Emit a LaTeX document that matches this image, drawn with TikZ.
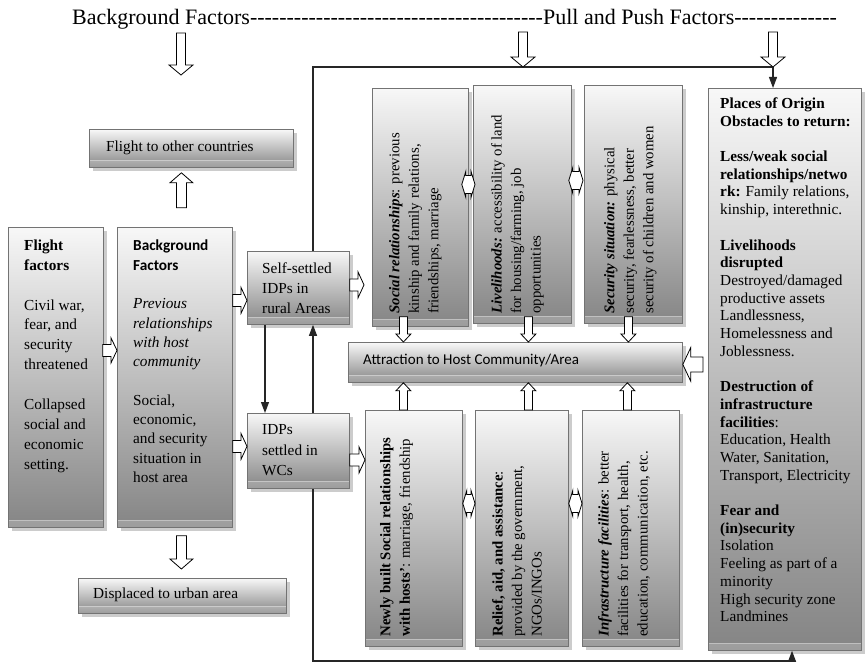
\documentclass[tikz,border=0pt]{standalone}
\usepackage{fontspec}
\setmainfont{Liberation Serif}
\newfontfamily\calibri{Carlito}
\usetikzlibrary{calc,shadows,arrows.meta}
\newcommand\bodyfont{\rmfamily\fontsize{15.3}{19.9}\selectfont}
\newcommand\rotfont{\rmfamily\fontsize{14.8}{19.5}\selectfont}
\newcommand\placefont{\rmfamily\fontsize{15.3}{17.7}\selectfont}
\newcommand\dashrun[1]{\foreach\i in {1,...,#1}{-{}}}
\tikzset{
  box/.style={draw=black!55, line width=0.8pt, top color=black!3, bottom color=black!48,
    drop shadow={shadow xshift=3.5pt, shadow yshift=-3.5pt, fill=black!20, opacity=1},
    path picture={\fill[white,opacity=0.2] (path picture bounding box.south west) rectangle ([yshift=7pt]path picture bounding box.south east);
      \draw[white,opacity=0.35,line width=0.6pt] ([yshift=7pt]path picture bounding box.south west) -- ([yshift=7pt]path picture bounding box.south east);}},
  txt/.style={inner sep=0pt, align=left, anchor=north west, font=\bodyfont},
  rtxt/.style={inner sep=0pt, align=left, anchor=north west, rotate=90, font=\rotfont},
  hollow/.style={draw=black, line width=0.8pt, fill=white, line join=miter},
  link/.style={draw=black!85, line width=1.1pt},
  tip/.style={-{Triangle[length=11pt,width=8pt]}},
}
\newcommand\bx[5]{\node[box, anchor=north west, inner sep=0pt, minimum width=#4pt, minimum height=#5pt] (#1) at (#2,#3) {};}
\newcommand\blockarrow[5]{%
  \path let \p1=(#1), \p2=(#2), \n1={atan2(\y2-\y1,\x2-\x1)}, \n2={veclen(\x2-\x1,\y2-\y1)} in
    \pgfextra{\xdef\BAang{\n1}\xdef\BAlen{\n2}\xdef\BAx{\x1}\xdef\BAy{\y1}};
  \begin{scope}[shift={(\BAx,\BAy)}, rotate=\BAang, x=1pt, y=1pt]
    \draw[hollow] (0,-#3) -- ({\BAlen-#5},-#3) -- ({\BAlen-#5},-#4) -- (\BAlen,0) -- ({\BAlen-#5},#4) -- ({\BAlen-#5},#3) -- (0,#3) -- cycle;
  \end{scope}}
\newcommand\dblarrow[5]{%
  \path let \p1=(#1), \p2=(#2), \n1={atan2(\y2-\y1,\x2-\x1)}, \n2={veclen(\x2-\x1,\y2-\y1)} in
    \pgfextra{\xdef\BAang{\n1}\xdef\BAlen{\n2}\xdef\BAx{\x1}\xdef\BAy{\y1}};
  \begin{scope}[shift={(\BAx,\BAy)}, rotate=\BAang, x=1pt, y=1pt]
    \draw[hollow] (0,0) -- (#5,#4) -- (#5,#3) -- ({\BAlen-#5},#3) -- ({\BAlen-#5},#4) -- (\BAlen,0) -- ({\BAlen-#5},-#4) -- ({\BAlen-#5},-#3) -- (#5,-#3) -- (#5,-#4) -- cycle;
  \end{scope}}
\begin{document}
\begin{tikzpicture}[x=1pt,y=-1pt]
\useasboundingbox[fill=white] (0,0) rectangle (866,666);
% title
\node[anchor=base west, inner sep=0pt, font=\rmfamily\fontsize{22}{26}\selectfont] (title) at (72,25)
  {Background Factors\dashrun{40}Pull and Push Factors\dashrun{14}};
% boxes
\bx{flight}{89}{129}{204}{38}
\bx{ff}{8}{227}{95}{300}
\bx{bg}{117}{227}{115}{300}
\bx{ss}{247}{251}{102}{73}
\bx{wc}{247}{413}{102}{75}
\bx{disp}{78}{578}{208}{35}
\bx{soc}{372}{88}{96}{238}
\bx{liv}{473}{85}{98}{238}
\bx{sec}{584}{85}{98}{238}
\bx{attr}{348}{342}{334}{40}
\bx{newly}{365}{410}{97}{236}
\bx{relief}{475}{410}{93}{236}
\bx{infra}{582}{410}{97}{236}
\bx{places}{708}{88}{153}{562}
% texts
\node[txt, anchor=west] at ($(flight.west)+(17,-1)$) {Flight to other countries};
\node[txt, anchor=west] at ($(disp.west)+(15,-1)$) {Displaced to urban area};
\node[txt, anchor=west, font=\calibri\fontsize{15}{18}\selectfont] at ($(attr.west)+(15,-2)$) {Attraction to Host Community/Area};
\node[txt] at ($(ff.north west)+(16,12.5)$) {\textbf{Flight}\\\textbf{factors}\\[19.9pt]Civil war,\\fear, and\\security\\threatened\\[19.9pt]Collapsed\\social and\\economic\\setting.};
\node[txt, font=\rmfamily\fontsize{15.3}{19.3}\selectfont] at ($(bg.north west)+(16,13)$) {{\calibri\bfseries Background}\\{\calibri\bfseries Factors}\\[19.3pt]\textit{Previous}\\\textit{relationships}\\\textit{with host}\\\textit{community}\\[19.3pt]Social,\\economic,\\and security\\situation in\\host area};
\node[txt, font=\rmfamily\fontsize{15.3}{20}\selectfont] at ($(ss.north west)+(15,11.5)$) {Self-settled\\IDPs in\\rural Areas};
\node[txt, font=\rmfamily\fontsize{15.3}{20.5}\selectfont] at ($(wc.north west)+(15,11.5)$) {IDPs\\settled in\\WCs};
\node[txt, font=\placefont] at ($(places.north west)+(12,9.5)$) {\textbf{Places of Origin}\\
\textbf{Obstacles to return:}\\[17.7pt]
\textbf{Less/weak social}\\
\textbf{relationships/netwo}\\
\textbf{rk:} Family relations,\\
kinship, interethnic.\\[17.7pt]
\textbf{Livelihoods}\\
\textbf{disrupted}\\
Destroyed/damaged\\
productive assets\\
Landlessness,\\
Homelessness and\\
Joblessness.\\[17.7pt]
\textbf{Destruction of}\\
\textbf{infrastructure}\\
\textbf{facilities}:\\
Education, Health\\
Water, Sanitation,\\
Transport, Electricity\\[17.7pt]
\textbf{Fear and}\\
\textbf{(in)security}\\
Isolation\\
Feeling as part of a\\
minority\\
High security zone\\
Landmines};
% rotated texts
\node[rtxt] at ($(soc.south west)+(17,-13)$) {\textbf{\textit{Social relationships}}: previous\\kinship and family relations,\\friendships, marriage};
\node[rtxt] at ($(liv.south west)+(18,-10)$) {\textbf{\textit{Livelihoods:}} accessibility of land\\for housing/farming, job\\opportunities};
\node[rtxt] at ($(sec.south west)+(20,-10)$) {\textbf{\textit{Security situation:}} physical\\security, fearlessness, better\\security of children and women};
\node[rtxt] at ($(newly.south west)+(15,-10)$) {\textbf{Newly built Social relationships}\\\textbf{with hosts'}: marriage, friendship};
\node[rtxt] at ($(relief.south west)+(17,-10)$) {\textbf{Relief, aid, and assistance}:\\provided by the government,\\NGOs/INGOs};
\node[rtxt] at ($(infra.south west)+(16,-10)$) {\textbf{\textit{Infrastructure facilities}}: better\\facilities for transport, health,\\education, communication, etc.};
% frame connectors
\coordinate (tl) at (313,67);
\coordinate (tr) at (773,67);
\coordinate (bl) at (313,661);
\coordinate (br) at (792,661);
\draw[link] (ss.north -| tl) -- (tl) -- (tr);
\draw[link,tip] (tr) -- (tr |- places.north);
\draw[link] (wc.south -| bl) -- (bl) -- (br);
\draw[link,tip] (br) -- (br |- places.south);
\draw[link,tip] ($(ss.south west)+(18,0)$) -- ($(wc.north west)+(18,0)$);
\draw[link,tip] ($(wc.north west)+(66,0)$) -- ($(ss.south west)+(66,0)$);
% hollow block arrows
\coordinate (a1s) at (181,33);
\coordinate (a1e) at (181,75);
\coordinate (a2s) at (523,32);
\coordinate (a3s) at (773,32);
\blockarrow{a1s}{a1e}{4.5}{12}{10}
\blockarrow{a2s}{tl -| a2s}{4.5}{12}{10}
\blockarrow{a3s}{tl -| a3s}{4.5}{12}{10}
\blockarrow{$(flight.south)+(-10,40)$}{$(flight.south)+(-10,5)$}{5}{11.5}{10}
\blockarrow{$(bg.south)+(6.5,8)$}{$(disp.north)+(-1,-9)$}{5}{11.5}{10}
\blockarrow{$(ff.east)+(-1,-27)$}{$(bg.west)+(0,-27)$}{6}{12.5}{6}
\blockarrow{$(bg.east)+(0,-77)$}{$(ss.west)+(0,12.5)$}{6}{13}{6}
\blockarrow{$(bg.east)+(0,69)$}{$(wc.west)+(0,-4.5)$}{6}{13}{6}
\blockarrow{$(ss.east)+(0,-3)$}{$(soc.west |- ss.east)+(-8,-3)$}{6}{13}{6}
\blockarrow{$(wc.east)+(0,9)$}{$(newly.west |- wc.east)+(0,9)$}{6}{13}{6}
\blockarrow{$(soc.south)+(-17,-10)$}{$(attr.north -| soc.south)+(-17,0)$}{4}{7.5}{8}
\blockarrow{$(liv.south)+(6,-7)$}{$(attr.north -| liv.south)+(6,0)$}{4}{7.5}{8}
\blockarrow{$(sec.south)+(-5,-7)$}{$(attr.north -| sec.south)+(-5,0)$}{4}{7.5}{8}
\blockarrow{$(newly.north)+(-10.5,0)$}{$(attr.south -| newly.north)+(-10.5,0)$}{4}{7.5}{8}
\blockarrow{$(relief.north)+(6.5,0)$}{$(attr.south -| relief.north)+(6.5,0)$}{4}{7.5}{8}
\blockarrow{$(infra.north)+(-3.5,0)$}{$(attr.south -| infra.north)+(-3.5,0)$}{4}{7.5}{8}
\blockarrow{$(places.west |- attr.east)+(-5,2)$}{$(attr.east)+(0,2)$}{7.5}{17}{8}
% double hollow arrows
\dblarrow{$(soc.east)+(-7,-23)$}{$(liv.west)+(2,-20)$}{9}{13}{4}
\dblarrow{$(liv.east)+(-3,-24)$}{$(sec.west)+(-1,-24)$}{9}{13}{4}
\dblarrow{$(newly.east)+(0,-25)$}{$(relief.west)+(0,-25)$}{9}{13}{4}
\dblarrow{$(relief.east)+(0,-25)$}{$(infra.west)+(0,-25)$}{9}{13}{4}
\end{tikzpicture}
\end{document}
